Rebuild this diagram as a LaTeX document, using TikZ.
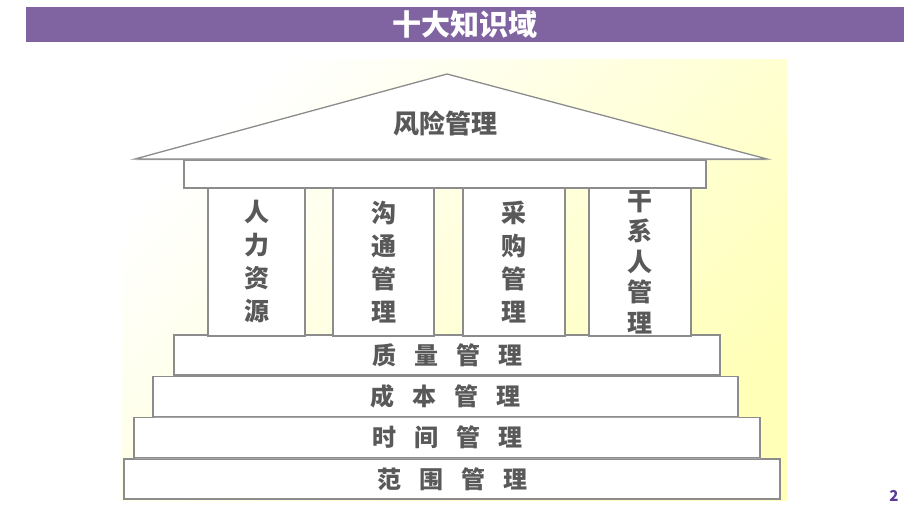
\documentclass[tikz,border=0pt]{standalone}
\usepackage{fontspec}
\usepackage{tikz}
\usetikzlibrary{positioning,shadows}
\newfontfamily\cjk{Noto Sans CJK SC}
\definecolor{barpurple}{HTML}{8064A2}
\definecolor{labelgray}{HTML}{595959}
\definecolor{edgegray}{HTML}{8C8C8C}
\definecolor{paleyellow}{HTML}{FFFFB8}
\definecolor{numpurple}{HTML}{5B3A9A}

\begin{document}
\begin{tikzpicture}[x=1pt,y=-1pt,
  block/.style={draw=edgegray,line width=1.3pt,fill=white,inner sep=0pt,
    text=labelgray,font=\cjk\bfseries\fontsize{24}{26}\selectfont,
    drop shadow={shadow xshift=1.2pt,shadow yshift=-1.2pt,fill=gray!70,opacity=1}},
  pillar/.style={block,minimum width=100pt,minimum height=148pt,align=center,
    font=\cjk\bfseries\fontsize{25}{33}\selectfont},
  stair/.style={block,minimum height=40pt}]
\useasboundingbox (0,0) rectangle (920,518);
\fill[white] (0,0) rectangle (920,518);
% title bar
\node[fill=barpurple,minimum width=878pt,minimum height=35pt,inner sep=0pt,
  text=white,font=\cjk\bfseries\fontsize{29}{30}\selectfont] (title) at (465,24.5) {十大知识域};
% background
\shade[top color=white,bottom color=paleyellow,shading angle=45] (122,60) rectangle (787,500);
% steps, bottom first
\node[stair,minimum width=656pt] (scope) at (452,479) {范\hspace{0.75em}围\hspace{0.75em}管\hspace{0.75em}理};
\node[stair,minimum width=626pt] (time) [above=0pt of scope.north,anchor=south,xshift=-5pt] {时\hspace{0.75em}间\hspace{0.75em}管\hspace{0.75em}理};
\node[stair,minimum width=585pt] (cost) [above=0pt of time.north,anchor=south,xshift=-1.5pt] {成\hspace{0.75em}本\hspace{0.75em}管\hspace{0.75em}理};
\node[stair,minimum width=546pt] (quality) [above=0pt of cost.north,anchor=south,xshift=1.5pt] {质\hspace{0.75em}量\hspace{0.75em}管\hspace{0.75em}理};
% pillars
\node[pillar,minimum width=97pt] (hr) at (256.5,262) {人\\力\\资\\源};
\node[pillar,minimum width=101pt] (comm) at (383.5,262) {沟\\通\\管\\理};
\node[pillar,minimum width=102pt] (proc) at (514,262) {采\\购\\管\\理};
\node[pillar,minimum width=102pt,font=\cjk\bfseries\fontsize{25}{30.5}\selectfont] (stake) at (640,262) {干\\系\\人\\管\\理};
% beam and roof
\node[block,minimum width=522pt,minimum height=28pt] (beam) at (445,174) {};
\coordinate (apex) at (447,74);
\coordinate (eaveL) at (135,159);
\coordinate (eaveR) at (767,159);
\draw[edgegray,line width=1.3pt,fill=white,
  drop shadow={shadow xshift=1.2pt,shadow yshift=-1.2pt,fill=gray!70,opacity=1}]
  (eaveL) -- (apex) -- (eaveR) -- cycle;
\node[text=labelgray,font=\cjk\bfseries\fontsize{26}{28}\selectfont] (risk) at (445,124) {风险管理};
% page number
\node[text=numpurple,font=\cjk\bfseries\fontsize{15}{16}\selectfont] (page) at (894,496) {2};
\end{tikzpicture}
\end{document}
